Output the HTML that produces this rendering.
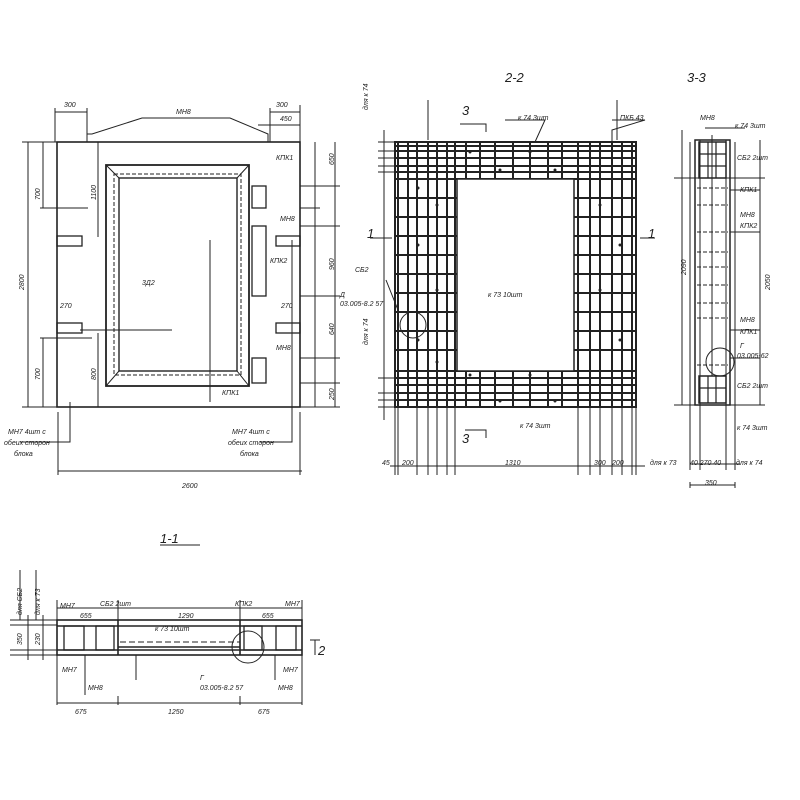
<!DOCTYPE html>
<html><head><meta charset="utf-8">
<style>
html,body{margin:0;padding:0;background:#fff;}
svg{display:block;}
text{font-family:"Liberation Sans",sans-serif;font-style:italic;fill:#222;}
</style></head><body>
<svg width="800" height="800" viewBox="0 0 800 800" xmlns="http://www.w3.org/2000/svg">
<g stroke="#222" fill="none" stroke-width="1">
<!-- LEFT VIEW -->
<rect x="57" y="142" width="243" height="265" stroke-width="1.6"/>
<rect x="106" y="165" width="143" height="221" stroke-width="1.8"/>
<rect x="119" y="178" width="118" height="193" stroke-width="1.4"/>
<rect x="114" y="174" width="127" height="201" stroke-dasharray="4 2"/>
<path d="M106 165L119 178M249 165L237 178M106 386L119 371M249 386L237 371"/>
<rect x="57" y="236" width="25" height="10" stroke-width="1.3"/><rect x="57" y="323" width="25" height="10" stroke-width="1.3"/>
<rect x="276" y="236" width="24" height="10" stroke-width="1.3"/><rect x="276" y="323" width="24" height="10" stroke-width="1.3"/>
<rect x="252" y="186" width="14" height="22" stroke-width="1.3"/><rect x="252" y="226" width="14" height="70" stroke-width="1.3"/><rect x="252" y="358" width="14" height="25" stroke-width="1.3"/>
<path d="M28 142V407M43 142V208M43 338V407M98 142V237M98 333V407M315 142V407M335 142V407M55 108V142M87 108V142M270 108V142M300 105V142M55 112H87M270 112H300M258 125H300M87 142V134H92L142 118H230L268 134V142"/>
<path d="M22 142H60M22 407H340M300 186H340M300 208H320M300 226H340M300 296H340M300 358H340M300 383H340M40 208H88M40 338H92M210 240V402M292 240V442H260M70 402V442H20M172 330H80"/>
<path d="M58 412V475M300 412V475M58 471H302"/>
<!-- MIDDLE 2-2 -->
<g stroke-width="2">
<rect x="395" y="142" width="241" height="265"/>
<path d="M398 142V407M408 142V407M417 142V407M428 142V407M437 142V407M447 142V407M455 142V407
M578 142V407M590 142V407M600 142V407M612 142V407M622 142V407M632 142V407
M466 142V179M480 142V179M495 142V179M513 142V179M530 142V179M548 142V179M562 142V179
M466 371V407M480 371V407M495 371V407M513 371V407M530 371V407M548 371V407M562 371V407
M395 146H636M395 151H636M395 158H636M395 166H636M395 172H636M395 179H636
M395 371H636M395 378H636M395 385H636M395 393H636M395 400H636
M395 198H457M395 217H457M395 236H457M395 255H457M395 274H457M395 293H457M395 312H457M395 331H457M395 350H457
M574 198H636M574 217H636M574 236H636M574 255H636M574 274H636M574 293H636M574 312H636M574 331H636M574 350H636"/>
</g>
<rect x="457" y="179" width="117" height="192" fill="#fff" stroke-width="1.5"/>
<g fill="#222" stroke="none">
<circle cx="418" cy="188" r="1.5"/><circle cx="437" cy="205" r="1.5"/><circle cx="418" cy="245" r="1.5"/><circle cx="437" cy="290" r="1.5"/><circle cx="418" cy="340" r="1.5"/><circle cx="437" cy="362" r="1.5"/>
<circle cx="600" cy="205" r="1.5"/><circle cx="620" cy="245" r="1.5"/><circle cx="600" cy="290" r="1.5"/><circle cx="620" cy="340" r="1.5"/>
<circle cx="470" cy="152" r="1.5"/><circle cx="500" cy="170" r="1.5"/><circle cx="530" cy="152" r="1.5"/><circle cx="555" cy="170" r="1.5"/>
<circle cx="470" cy="375" r="1.5"/><circle cx="500" cy="401" r="1.5"/><circle cx="530" cy="375" r="1.5"/><circle cx="555" cy="401" r="1.5"/>
</g>
<path d="M395 407V475M398 407V475M417 407V475M428 407V475M437 407V475M447 407V475M455 407V475M578 407V475M590 407V475M600 407V475M612 407V475M622 407V475M632 407V475M636 407V475M390 466H645"/>
<path d="M378 142H395M378 151H395M378 158H395M378 166H395M378 172H395M378 378H395M378 393H395M378 400H395M378 407H395M384 130V420"/>
<path d="M460 124H486V132M465 430H486V438M505 120H545L535 142M612 120H645L612 130V142M392 238H370M640 238H655M386 280L398 310M428 100V140M617 100V140"/>
<circle cx="413" cy="325" r="13"/>
<!-- RIGHT 3-3 -->
<rect x="695" y="140" width="35" height="265" stroke-width="1.5"/>
<rect x="699" y="142" width="27" height="36" stroke-width="1.5"/><rect x="699" y="376" width="27" height="27" stroke-width="1.5"/>
<path d="M699 154H726M699 166H726M708 142V178M716 142V178M699 388H726M708 376V403M716 376V403" stroke-width="1.2"/>
<g stroke-dasharray="4 2"><path d="M697 188H728M697 205H728M697 232H728M697 252H728M697 267H728M697 285H728M697 303H728M697 318H728M697 365H728"/></g>
<path d="M712 135V376M700 178H765M700 405H765M760 140V405M690 142V470M735 142V470M700 140V470M726 140V470M690 464H740M690 482V488M690 485H735M735 482V488M674 178H700M674 405H700M682 130V405M705 128H745M730 190H760M730 232H760M730 330H760M730 358H760"/>
<circle cx="720" cy="362" r="14"/>
<!-- BOTTOM 1-1 -->
<rect x="57" y="620" width="245" height="35" stroke-width="1.6"/>
<path d="M118 620V655M240 620V655M57 626H302M57 650H302M118 647H240" stroke-width="1.6"/>
<path d="M120 642H240" stroke-dasharray="6 3"/>
<rect x="64" y="626" width="20" height="24" stroke-width="1.3"/><rect x="96" y="626" width="18" height="24" stroke-width="1.3"/>
<rect x="244" y="626" width="18" height="24" stroke-width="1.3"/><rect x="276" y="626" width="20" height="24" stroke-width="1.3"/>
<circle cx="248" cy="647" r="16"/>
<path d="M57 608H302M57 703H302M57 600V705M118 696V705M240 696V705M302 600V705M118 600V620M240 600V620M10 620H57M10 655H57M10 625H57M10 650H57M28 615V660M43 615V660M310 640H320M315 640V655M20 570V620M36 570V620M85 655V695M136 655V680M275 655V680"/>
<path d="M160 545H200"/>
</g>
<g font-size="7">
<text x="64" y="107">300</text><text x="176" y="114">МН8</text><text x="276" y="107">300</text><text x="280" y="121">450</text>
<text x="142" y="285">3Д2</text>
<text x="276" y="160">КПК1</text><text x="280" y="221">МН8</text><text x="270" y="263">КПК2</text>
<text x="281" y="308">270</text><text x="60" y="308">270</text><text x="276" y="350">МН8</text><text x="222" y="395">КПК1</text>
<text x="8" y="434">МН7  4шт  с</text><text x="4" y="445">обеих  сторон</text><text x="14" y="456">блока</text>
<text x="232" y="434">МН7  4шт  с</text><text x="228" y="445">обеих  сторон</text><text x="240" y="456">блока</text>
<text x="182" y="488">2600</text>
<g transform="rotate(-90)"><text x="-290" y="24">2800</text><text x="-200" y="40">700</text><text x="-380" y="40">700</text><text x="-200" y="96">1100</text><text x="-380" y="96">800</text>
<text x="-165" y="334">650</text><text x="-270" y="334">960</text><text x="-335" y="334">640</text><text x="-400" y="334">250</text>
<text x="-110" y="368">для к 74</text><text x="-345" y="368">для к 74</text><text x="-275" y="686">2090</text><text x="-290" y="770">2050</text>
<text x="-615" y="22">для СБ2</text><text x="-615" y="40">для к 73</text><text x="-645" y="22">350</text><text x="-645" y="40">230</text></g>
<text x="340" y="297">Д</text><text x="340" y="306">03.005-8.2  57</text><text x="355" y="272">СБ2</text>
<text x="518" y="120">к 74  3шт</text><text x="620" y="120">ПКБ 43</text>
<text x="488" y="297">к 73   10шт</text><text x="520" y="428">к 74  3шт</text>
<text x="382" y="465">45</text><text x="402" y="465">200</text><text x="505" y="465">1310</text><text x="594" y="465">300</text><text x="612" y="465">200</text><text x="650" y="465">для к 73</text>
<text x="700" y="120">МН8</text><text x="735" y="128">к 74  3шт</text><text x="737" y="160">СБ2  2шт</text>
<text x="740" y="192">КПК1</text><text x="740" y="217">МН8</text><text x="740" y="228">КПК2</text>
<text x="740" y="322">МН8</text><text x="740" y="334">КПК1</text><text x="740" y="348">Г</text><text x="737" y="358">03.005-62</text>
<text x="737" y="388">СБ2  2шт</text><text x="737" y="430">к 74  3шт</text>
<text x="690" y="465">40 270 40</text><text x="736" y="465">для к 74</text><text x="705" y="485">350</text>
<text x="60" y="608">МН7</text><text x="100" y="606">СБ2  2шт</text><text x="80" y="618">655</text>
<text x="178" y="618">1290</text><text x="235" y="606">КПК2</text><text x="262" y="618">655</text><text x="285" y="606">МН7</text>
<text x="155" y="631">к 73   10шт</text>
<text x="62" y="672">МН7</text><text x="88" y="690">МН8</text><text x="200" y="680">Г</text><text x="200" y="690">03.005-8.2  57</text>
<text x="283" y="672">МН7</text><text x="278" y="690">МН8</text>
<text x="75" y="714">675</text><text x="168" y="714">1250</text><text x="258" y="714">675</text>
</g>
<g font-size="13">
<text x="505" y="82">2-2</text><text x="687" y="82">3-3</text><text x="462" y="115">3</text><text x="462" y="443">3</text>
<text x="367" y="238">1</text><text x="648" y="238">1</text><text x="160" y="543">1-1</text><text x="318" y="655">2</text>
</g>
</svg>
</body></html>
